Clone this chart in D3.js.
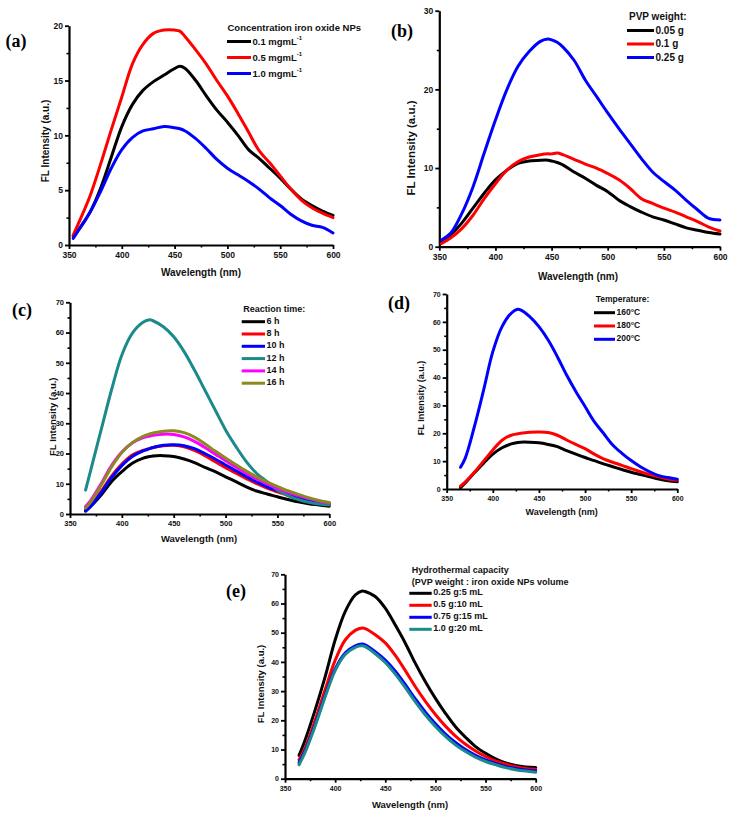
<!DOCTYPE html>
<html><head><meta charset="utf-8">
<script src="https://cdn.jsdelivr.net/npm/d3@7"></script>
<style>
body{margin:0;background:#fff;}
svg{display:block;font-family:"Liberation Sans",Arial,sans-serif;}
</style></head>
<body><svg id="c" width="734" height="816"></svg>
<script>
// ---------- DATA ----------
// (a) concentration of iron oxide NPs
const wlA = [354,360,370,380,390,400,410,420,430,440,450,455,460,470,480,490,500,510,520,530,540,550,560,570,580,590,600];
const a01 = [0.8,1.5,3.0,5.2,8.0,10.8,12.8,14.1,14.9,15.5,16.1,16.3,16.1,15.0,13.6,12.3,11.2,10.0,8.7,7.9,7.0,6.1,5.1,4.2,3.6,3.1,2.7];
const a05 = [0.9,2.2,4.5,7.4,10.5,13.5,16.5,18.3,19.3,19.6,19.6,19.5,19.0,17.8,16.5,15.0,13.6,12.0,10.3,8.6,7.5,6.3,5.1,4.1,3.4,2.9,2.5];
const a10 = [0.6,1.5,3.0,4.9,7.0,8.7,9.8,10.4,10.6,10.8,10.7,10.6,10.4,9.7,8.8,7.8,7.0,6.4,5.8,5.1,4.3,3.6,2.8,2.2,1.8,1.6,1.1];
const labelsA = ["0.1 mgmL","0.5 mgmL","1.0 mgmL"];

// (b) PVP weight
const wlB = [352,360,370,380,390,400,410,420,430,440,447,450,455,460,470,480,490,500,510,520,530,540,550,560,570,580,590,600];
const b005 = [0.6,1.5,3.0,4.9,6.8,8.5,9.7,10.6,10.9,11.0,11.0,10.9,10.7,10.4,9.5,8.7,7.8,7.0,5.9,5.1,4.4,3.8,3.4,2.9,2.4,2.1,1.8,1.6];
const b01  = [0.4,1.1,2.3,4.0,6.1,8.0,9.7,10.8,11.4,11.7,11.8,11.8,11.9,11.7,11.1,10.5,10.0,9.3,8.5,7.4,6.1,5.5,4.9,4.4,3.8,3.2,2.5,2.0];
const b025 = [0.85,1.7,4.2,7.6,11.9,16.1,19.9,22.9,24.8,26.1,26.4,26.3,26.0,25.4,23.7,21.2,19.1,17.0,15.0,13.1,11.2,9.5,8.3,7.2,5.9,4.7,3.6,3.4];
const labelsB = ["0.05 g","0.1 g","0.25 g"];

// (c) reaction time
const wlC = [365,370,380,390,400,410,420,427,430,440,450,460,470,480,490,500,510,520,530,540,550,560,570,580,590,600];
const c6  = [1.3,2.6,6.3,10.7,14.0,16.8,18.4,19.0,19.2,19.3,19.0,18.2,17.0,15.4,14.0,12.3,10.7,9.0,7.6,6.6,5.7,4.8,4.0,3.4,3.0,2.6];
const c8  = [1.5,3.0,7.5,12.5,16.5,19.5,21.0,21.7,22.0,22.6,22.7,22.2,21.0,19.3,17.3,15.3,13.5,11.7,10.0,8.6,7.3,6.2,5.2,4.4,3.7,3.2];
const c10 = [0.9,2.5,7.0,12.0,16.0,19.0,20.8,21.6,22.0,22.7,22.9,22.6,21.6,20.0,18.2,16.2,14.3,12.4,10.6,9.0,7.7,6.5,5.4,4.5,3.8,3.3];
const c12 = [7.9,14.5,27.8,41.0,52.6,59.7,63.3,64.2,63.9,61.9,58.6,53.7,47.6,41.0,34.4,27.8,22.3,17.3,13.4,10.7,7.9,6.1,4.8,3.9,3.3,3.0];
const c14 = [2.5,4.5,10.0,16.0,20.5,23.5,25.2,25.8,26.0,26.4,26.3,25.5,24.0,22.0,19.8,17.6,15.5,13.5,11.6,10.0,8.5,7.2,6.1,5.1,4.3,3.6];
const c16 = [2.0,4.0,9.5,15.5,20.3,23.6,25.6,26.5,26.8,27.4,27.5,26.9,25.4,23.2,20.8,18.5,16.3,14.2,12.3,10.6,9.1,7.7,6.5,5.4,4.5,3.8];
const labelsC = ["6 h","8 h","10 h","12 h","14 h","16 h"];

// (d) temperature
const wlD = [365,370,380,390,400,410,420,427,430,440,450,460,470,480,490,500,510,520,530,540,550,560,570,580,590,600];
const d160 = [0.5,2.2,5.8,9.3,12.5,14.8,16.2,16.7,16.8,16.8,16.6,16.0,15.2,13.8,12.5,11.3,10.2,9.0,8.0,7.0,6.0,5.2,4.4,3.6,3.0,2.6];
const d180 = [1.0,2.5,6.0,10.0,14.0,17.5,19.3,19.8,20.0,20.4,20.5,20.3,19.3,17.6,16.0,14.5,12.5,10.8,9.6,8.5,7.3,6.2,5.2,4.4,3.6,3.1];
const d200 = [7.8,11.0,22.4,35.5,49.3,58.3,63.1,64.5,64.3,61.9,58.3,53.5,47.5,40.9,35.0,29.6,24.2,20.0,15.8,12.8,10.2,8.0,6.2,4.8,4.1,3.5];
const labelsD = ["160\u00B0C","180\u00B0C","200\u00B0C"];

// (e) hydrothermal capacity
const wlE = [364,370,380,390,400,410,420,427,430,440,450,460,470,480,490,500,510,520,530,540,550,560,570,580,590,600];
const e1 = [8.0,13.2,23.5,34.9,47.5,57.2,62.9,64.3,64.1,62.4,58.4,52.6,46.4,39.5,33.2,27.5,22.4,17.8,14.2,11.0,8.7,6.8,5.4,4.5,4.0,3.8];
const e2 = [6.5,10.5,20.0,30.5,40.5,47.5,50.8,51.6,51.4,49.3,46.5,42.2,37.0,31.5,26.5,22.0,18.0,14.6,11.8,9.5,7.6,6.1,5.0,4.1,3.5,3.2];
const e3 = [5.5,9.5,18.5,28.5,37.5,43.0,45.5,46.1,45.8,43.5,40.6,36.8,32.2,27.3,22.8,18.8,15.3,12.4,10.0,8.0,6.4,5.2,4.2,3.5,3.0,2.7];
const e4 = [4.8,9.0,18.0,28.0,37.0,42.5,45.0,45.5,45.2,42.8,39.8,35.8,31.2,26.3,21.8,17.9,14.5,11.6,9.3,7.4,5.9,4.8,3.8,3.1,2.6,2.2];
const labelsE = ["0.25 g:5 mL","0.5 g:10 mL","0.75 g:15 mL","1.0 g:20 mL"];

const xTicks = [350,400,450,500,550,600];

// ---------- DRAW ----------
const svg = d3.select("#c");
const BLACK="#000000", RED="#ff0000", BLUE="#0000ff", TEAL="#1a8a8a", MAG="#ff00ff", OLIVE="#8a8a1e";

function panel(o){
  const g = svg.append("g");
  const x = d3.scaleLinear().domain([350,600]).range([o.x0,o.x1]);
  const y = d3.scaleLinear().domain([0,o.ymax]).range([o.yb,o.yt]);
  // minor ticks
  const xMinor = d3.range(375,600,50);
  const yMinor = d3.range(o.ystep/2,o.ymax,o.ystep);
  g.append("g").attr("transform",`translate(0,${o.yb})`)
    .call(d3.axisBottom(x).tickValues(xMinor).tickSize(2.5).tickFormat(""))
    .call(s=>s.select(".domain").remove())
    .selectAll("line").attr("stroke-width",1.6);
  g.append("g").attr("transform",`translate(${o.x0},0)`)
    .call(d3.axisLeft(y).tickValues(yMinor).tickSize(2.5).tickFormat(""))
    .call(s=>s.select(".domain").remove())
    .selectAll("line").attr("stroke-width",1.6);
  const yT = d3.range(0,o.ymax+0.001,o.ystep);
  const ax = g.append("g").attr("transform",`translate(0,${o.yb})`)
    .call(d3.axisBottom(x).tickValues(xTicks).tickSize(4).tickSizeOuter(0).tickPadding(3).tickFormat(d3.format("d")));
  const ay = g.append("g").attr("transform",`translate(${o.x0},0)`)
    .call(d3.axisLeft(y).tickValues(yT).tickSize(4).tickSizeOuter(0).tickPadding(2).tickFormat(d3.format("d")));
  [ax,ay].forEach(a=>{
    a.select(".domain").attr("stroke-width",2.2);
    a.selectAll(".tick line").attr("stroke-width",1.8);
    a.selectAll("text").attr("font-size",o.tf||8.5).attr("font-weight","bold")
      .attr("font-family","'Liberation Sans',Arial,sans-serif").attr("fill","#111");
  });
  // curves
  const line = d3.line().curve(d3.curveCatmullRom.alpha(0.5));
  o.series.forEach(s=>{
    g.append("path")
      .attr("d", line(o.wl.map((w,i)=>[x(w),y(s.v[i])])))
      .attr("fill","none").attr("stroke",s.c).attr("stroke-width",3)
      .attr("stroke-linejoin","round").attr("stroke-linecap","round");
  });
  // axis titles
  g.append("text").attr("x",o.xt[0]).attr("y",o.xt[1]).attr("text-anchor","middle")
    .attr("dominant-baseline","middle").attr("font-size",o.atf||10).attr("font-weight","bold")
    .attr("fill","#111").text("Wavelength (nm)");
  g.append("text").attr("transform",`translate(${o.ytt[0]},${o.ytt[1]}) rotate(-90)`)
    .attr("text-anchor","middle").attr("dominant-baseline","middle")
    .attr("font-size",o.ytf||10).attr("font-weight","bold").attr("fill","#111")
    .text("FL Intensity (a.u.)");
  // panel label
  g.append("text").attr("x",o.pl[0]).attr("y",o.pl[1]).attr("text-anchor","middle")
    .attr("dominant-baseline","middle").attr("font-family","'Liberation Serif','Times New Roman',serif")
    .attr("font-weight","bold").attr("font-size",18).text(o.label);
  // legend
  const L = o.leg;
  L.titles.forEach((t,i)=>{
    g.append("text").attr("x",L.tx).attr("y",L.ty+i*L.tdy).attr("dominant-baseline","middle")
      .attr("font-size",L.fs).attr("font-weight","bold").attr("fill","#111").text(t);
  });
  o.series.forEach((s,i)=>{
    const yy = L.y0 + i*L.dy;
    g.append("line").attr("x1",L.lx0).attr("x2",L.lx1).attr("y1",yy).attr("y2",yy)
      .attr("stroke",s.c).attr("stroke-width",3);
    const t = g.append("text").attr("x",L.lx1+1.5).attr("y",yy).attr("dominant-baseline","middle")
      .attr("font-size",L.fs).attr("font-weight","bold").attr("fill","#111");
    t.append("tspan").text(s.name);
    if(L.sup){ t.append("tspan").attr("dy",-4).attr("font-size",6).text(L.sup); }
  });
}

panel({label:"(a)", pl:[16,43], x0:69, x1:333, yt:25.7, yb:245, ymax:20, ystep:5,
  wl:wlA, series:[{v:a01,c:BLACK,name:labelsA[0]},{v:a05,c:RED,name:labelsA[1]},{v:a10,c:BLUE,name:labelsA[2]}],
  xt:[201,273], ytt:[46.7,141], atf:10, ytf:10,
  leg:{titles:["Concentration iron oxide NPs"], tx:227.5, ty:28, tdy:0, fs:9.5, y0:41.5, dy:16, lx0:227, lx1:251, sup:"-1"}});

panel({label:"(b)", pl:[402,33], x0:439.3, x1:720, yt:10.7, yb:246.7, ymax:30, ystep:10,
  wl:wlB, series:[{v:b005,c:BLACK,name:labelsB[0]},{v:b01,c:RED,name:labelsB[1]},{v:b025,c:BLUE,name:labelsB[2]}],
  xt:[578,277], ytt:[411.7,148], atf:10, ytf:11.5,
  leg:{titles:["PVP weight:"], tx:629, ty:17.7, tdy:0, fs:10, y0:30.5, dy:13.5, lx0:627, lx1:654}});

panel({label:"(c)", pl:[22,312], x0:70, x1:329.3, yt:302.3, yb:514, ymax:70, ystep:10,
  wl:wlC, series:[{v:c6,c:BLACK,name:labelsC[0]},{v:c8,c:RED,name:labelsC[1]},{v:c10,c:BLUE,name:labelsC[2]},
    {v:c12,c:TEAL,name:labelsC[3]},{v:c14,c:MAG,name:labelsC[4]},{v:c16,c:OLIVE,name:labelsC[5]}],
  xt:[199,539], ytt:[53.3,416.7], atf:9.5, ytf:9.5, tf:7.5,
  leg:{titles:["Reaction time:"], tx:243.3, ty:309.3, tdy:0, fs:9, y0:321.7, dy:12.3, lx0:241.7, lx1:265}});

panel({label:"(d)", pl:[399,305], x0:446.7, x1:677.3, yt:294, yb:489, ymax:70, ystep:10,
  wl:wlD, series:[{v:d160,c:BLACK,name:labelsD[0]},{v:d180,c:RED,name:labelsD[1]},{v:d200,c:BLUE,name:labelsD[2]}],
  xt:[561.7,513], ytt:[421.7,398], atf:9, ytf:9, tf:7,
  leg:{titles:["Temperature:"], tx:595.7, ty:299.3, tdy:0, fs:8.5, y0:312.7, dy:13.3, lx0:594, lx1:615}});

panel({label:"(e)", pl:[236,593], x0:285, x1:535.7, yt:574.3, yb:778.7, ymax:70, ystep:10,
  wl:wlE, series:[{v:e1,c:BLACK,name:labelsE[0]},{v:e2,c:RED,name:labelsE[1]},{v:e3,c:BLUE,name:labelsE[2]},{v:e4,c:TEAL,name:labelsE[3]}],
  xt:[410,805], ytt:[261.7,684], atf:9.5, ytf:9.5, tf:7,
  leg:{titles:["Hydrothermal capacity","(PVP weight : iron oxide NPs volume"], tx:411.7, ty:571, tdy:11.3, fs:9, y0:593.3, dy:12, lx0:409.3, lx1:431.7}});
</script></body></html>
